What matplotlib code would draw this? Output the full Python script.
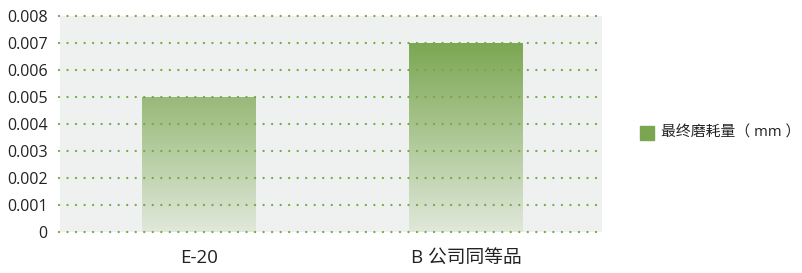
import numpy as np
import matplotlib.pyplot as plt
from matplotlib.colors import LinearSegmentedColormap
from matplotlib.patches import Rectangle

plt.rcParams['font.family'] = ['Open Sans', 'Noto Sans CJK SC', 'DejaVu Sans']

# data
categories = ['E-20', 'B 公司同等品']
wear = [0.005, 0.007]
yticks = [0, 0.001, 0.002, 0.003, 0.004, 0.005, 0.006, 0.007, 0.008]
ytick_labels = ['0', '0.001', '0.002', '0.003', '0.004', '0.005', '0.006', '0.007', '0.008']
legend_label = '最终磨耗量（ mm ）'

fig = plt.figure(figsize=(8.02, 2.73), dpi=100)
ax = fig.add_axes([60 / 802, 41 / 273, 542 / 802, 216 / 273])
ax.set_facecolor('#eff1f1')

x = np.arange(len(categories))
bar_w = 0.426
ymax = 0.008

# vertical gradient shared by all bars (light at bottom, green at top)
cmap = LinearSegmentedColormap.from_list('g', ['#e0e8da', '#7aa650'])
grad = np.linspace(0, 1, 256).reshape(-1, 1)

bars = ax.bar(x, wear, width=bar_w, color='none', edgecolor='none', zorder=2)
for b, v in zip(bars, wear):
    im = ax.imshow(grad, cmap=cmap, aspect='auto', origin='lower',
                   extent=[b.get_x(), b.get_x() + b.get_width(), 0, 0.0071],
                   zorder=2, vmin=0, vmax=1)
    clip = Rectangle((b.get_x(), 0), b.get_width(), v, transform=ax.transData)
    im.set_clip_path(clip)

x0, x1 = -0.518, 1.508
ax.set_xlim(x0, x1)
ax.set_ylim(0, ymax)

# dotted green gridlines drawn over the bars
for t in yticks:
    ax.plot([x0 - 0.004, x1], [t, t], linestyle=(0, (0.01, 3.6)),
            color='#74ab45', linewidth=1.7, zorder=3, clip_on=False,
            dash_capstyle='round')

ax.set_yticks(yticks)
ax.set_yticklabels(ytick_labels, fontsize=11.5, color='#222222')
ax.set_xticks(x)
ax.set_xticklabels(categories, fontsize=13.5, color='#222222')
ax.tick_params(length=0)
ax.tick_params(axis='y', pad=9)
ax.tick_params(axis='x', pad=12)
for s in ax.spines.values():
    s.set_visible(False)

# legend
fig.patches.append(Rectangle((640 / 802, (273 - 140) / 273), 14 / 802, 14 / 273,
                             transform=fig.transFigure, color='#7aa650'))
fig.text(661 / 802, (273 - 133) / 273, legend_label, fontsize=10.7,
         va='center', ha='left', color='#222222')

fig.savefig('out.png', dpi=100)
